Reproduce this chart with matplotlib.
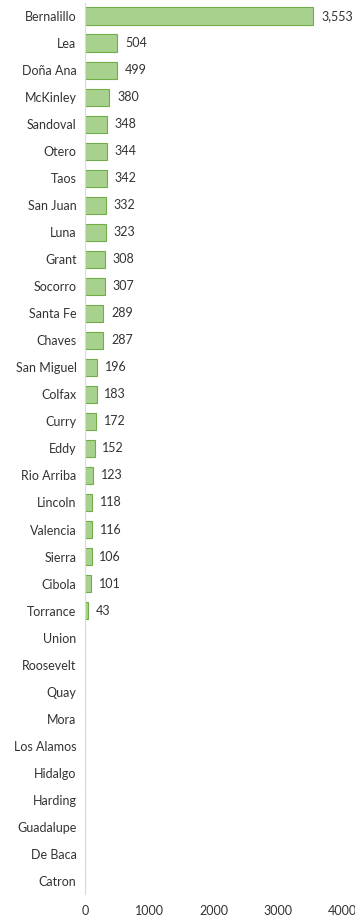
import matplotlib.pyplot as plt

# Data
counties = ["Bernalillo", "Lea", "Doña Ana", "McKinley", "Sandoval", "Otero", "Taos",
            "San Juan", "Luna", "Grant", "Socorro", "Santa Fe", "Chaves", "San Miguel",
            "Colfax", "Curry", "Eddy", "Rio Arriba", "Lincoln", "Valencia", "Sierra",
            "Cibola", "Torrance", "Union", "Roosevelt", "Quay", "Mora", "Los Alamos",
            "Hidalgo", "Harding", "Guadalupe", "De Baca", "Catron"]
values = [3553, 504, 499, 380, 348, 344, 342, 332, 323, 308, 307, 289, 287, 196,
          183, 172, 152, 123, 118, 116, 106, 101, 43, 0, 0, 0, 0, 0, 0, 0, 0, 0, 0]
x_ticks = [0, 1000, 2000, 3000, 4000]

plt.rcParams['font.family'] = ['Lato', 'DejaVu Sans']

fig = plt.figure(figsize=(3.55, 9.19), dpi=100)
ax = fig.add_axes([0.239, 0.027, 0.725, 0.97])

pos = list(range(len(counties)))
ax.barh(pos, values, height=0.65, color="#a9d18e", edgecolor="#70ad47", linewidth=0.8)

for p, v in zip(pos, values):
    if v > 0:
        ax.text(v + 120, p, f"{v:,}", va="center", ha="left", fontsize=9, color="#333333")

ax.set_yticks(pos)
ax.set_yticklabels(counties, fontsize=9, color="#333333")
ax.set_ylim(len(counties) - 0.5, -0.5)
ax.set_xlim(0, 4000)
ax.set_xticks(x_ticks)
ax.set_xticklabels([str(t) for t in x_ticks], fontsize=9, color="#333333")
ax.tick_params(length=0, pad=8)
ax.tick_params(axis="y", pad=6)

for s in ["top", "right", "bottom"]:
    ax.spines[s].set_visible(False)
ax.spines["left"].set_color("#d9d9d9")

fig.savefig("out.png", dpi=100)
